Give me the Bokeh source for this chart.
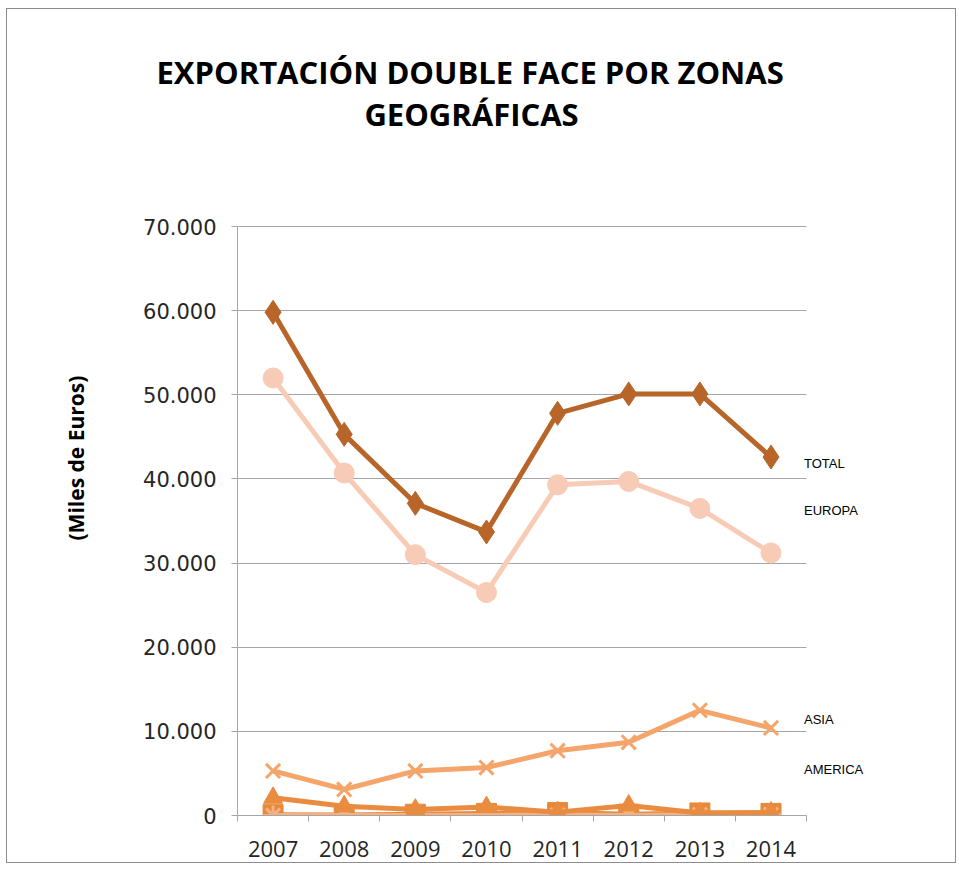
from bokeh.plotting import figure
from bokeh.models import FixedTicker, Title, Label
from bokeh.embed import file_html
from bokeh.resources import INLINE

years = ["2007", "2008", "2009", "2010", "2011", "2012", "2013", "2014"]
total = [59800, 45300, 37100, 33700, 47800, 50100, 50100, 42600]
europa = [52000, 40700, 31000, 26500, 39300, 39700, 36500, 31200]
asia = [5300, 3100, 5300, 5700, 7700, 8700, 12500, 10400]
america = [2100, 1100, 700, 1000, 400, 1200, 300, 350]
africa = [100, 50, 150, 250, 350, 150, 300, 250]
oceania = [0, 0, 0, 0, 50, 0, 100, 100]
y_ticks = [0, 10000, 20000, 30000, 40000, 50000, 60000, 70000]
y_max = 70000
label_names = ["TOTAL", "EUROPA", "ASIA", "AMERICA"]
label_y = [41850, 36300, 11400, 5450]
title_lines = ["EXPORTACIÓN DOUBLE FACE POR ZONAS", "GEOGRÁFICAS"]

n = len(years)
xs = [i + 0.5 for i in range(n)]

# layout (pixels)
frame_left, frame_bottom, axis_top, frame_top = 237, 815, 226, 93
plot_right = 806
px_per_unit = (plot_right - frame_left) / n
px_per_val = (frame_bottom - axis_top) / y_max
extra = 1.7  # room on the right for series labels
y_end = (frame_bottom - frame_top) / px_per_val


def ydata(py):
    return (frame_bottom - py) / px_per_val


def xdata(px):
    return (px - frame_left) / px_per_unit


p = figure(width=950, height=855, output_backend="svg", toolbar_location=None,
           x_range=(0, n + extra), y_range=(0, y_end),
           min_border_left=frame_left - 7,
           min_border_right=950 - (frame_left - 7) - int(round(px_per_unit * (n + extra))),
           min_border_top=frame_top - 9, min_border_bottom=49)
p.styles = {"border": "1px solid #8c8c8c", "margin-left": "6px", "margin-top": "8px"}
p.outline_line_color = None
p.background_fill_color = "white"
p.border_fill_color = "white"

# chart title: first line as a Title above the frame, second line inside the frame
title1 = Title(text=title_lines[0], align="left", offset=-81,
               text_font="Open Sans", text_font_size="31px", text_font_style="bold",
               text_color="#000000", standoff=1)
p.add_layout(title1, "above")
p.add_layout(Label(x=xdata(471), y=ydata(113), text=title_lines[1], text_align="center",
                   text_baseline="middle", text_font="Open Sans", text_font_size="31px",
                   text_font_style="bold", text_color="#000000"))

# grid
p.xgrid.grid_line_color = None
p.ygrid.grid_line_color = "#a6a6a6"
p.ygrid.grid_line_width = 1
p.ygrid.ticker = FixedTicker(ticks=y_ticks)
p.ygrid.cross_bounds = (0, n)

# y axis
p.yaxis.bounds = (0, y_max)
p.yaxis.ticker = FixedTicker(ticks=y_ticks)
p.yaxis.major_label_overrides = {t: (f"{t:,}".replace(",", ".") if t else "0") for t in y_ticks}
p.yaxis.axis_line_color = "#a6a6a6"
p.yaxis.major_tick_line_color = "#a6a6a6"
p.yaxis.major_tick_out = 6
p.yaxis.major_tick_in = 0
p.yaxis.minor_tick_line_color = None
p.yaxis.major_label_text_font = "DejaVu Sans"
p.yaxis.major_label_text_font_size = "21px"
p.yaxis.major_label_text_color = "#262626"
p.yaxis.major_label_standoff = 15

ytitle = Title(text="(Miles de Euros)", align="left", offset=275,
               text_font="Open Sans", text_font_size="21px", text_font_style="bold",
               text_color="#000000", standoff=102)
p.add_layout(ytitle, "left")

# x axis
p.xaxis.bounds = (0, n)
p.xaxis.ticker = FixedTicker(ticks=xs, minor_ticks=list(range(n + 1)))
p.xaxis.major_label_overrides = {x: y for x, y in zip(xs, years)}
p.xaxis.axis_line_color = "#a6a6a6"
p.xaxis.major_tick_line_color = None
p.xaxis.minor_tick_line_color = "#a6a6a6"
p.xaxis.minor_tick_out = 6
p.xaxis.minor_tick_in = 0
p.xaxis.major_label_text_font = "Open Sans"
p.xaxis.major_label_text_font_size = "22px"
p.xaxis.major_label_text_color = "#262626"
p.xaxis.major_label_standoff = 19

series = [
    (africa, "#e8893a", "square", 20),
    (oceania, "#f4b183", "asterisk", 20),
    (america, "#ea8c3f", "triangle", 19),
    (asia, "#f5a46a", "x", 20),
    (europa, "#f8cbb6", "circle", 20),
    (total, "#b8652a", "diamond", 24),
]
for vals, color, marker, size in series:
    p.line(xs, vals, line_color=color, line_width=5)
    p.scatter(xs, vals, marker=marker, size=size, fill_color=color, line_color=color,
              line_width=3 if marker in ("x", "asterisk") else 1)

for name, yv in zip(label_names, label_y):
    p.add_layout(Label(x=xs[-1], y=yv, text=name, x_offset=33, text_baseline="middle",
                       text_align="left", text_font="Liberation Sans", text_font_size="13px",
                       text_color="#000000"))

open("out.html", "w").write(file_html(p, INLINE))
